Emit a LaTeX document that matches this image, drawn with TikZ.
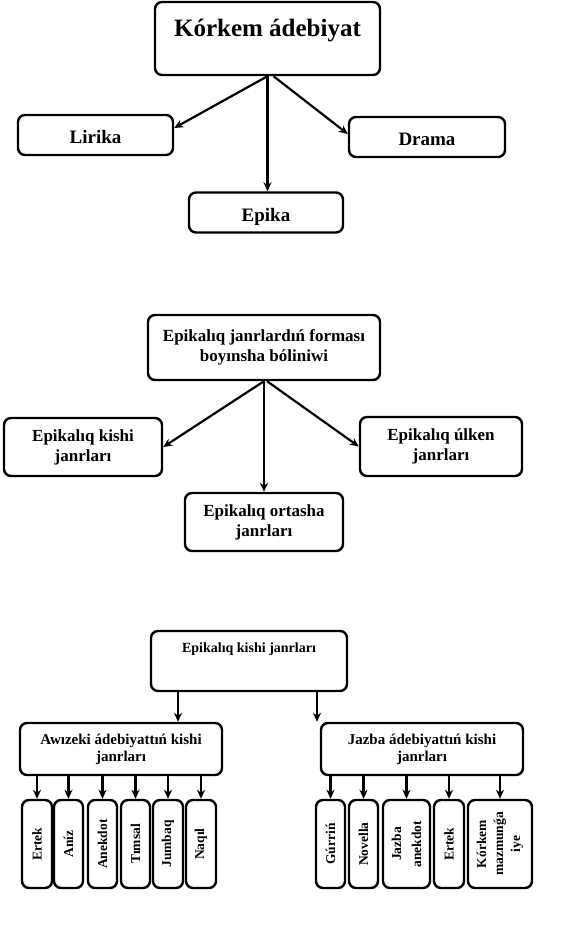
\documentclass[tikz,border=0pt]{standalone}
\usepackage{fontspec}
\setmainfont{Liberation Serif}
\usetikzlibrary{arrows.meta,positioning}
\tikzset{
    >={Stealth[length=9pt,width=8pt]},
    box/.style={draw,rounded corners=7pt,line width=2.4pt,align=center,inner sep=0pt},
    arr/.style={->,line width=2.2pt},
    kind/.style={box,minimum height=40pt,text height=17pt,text depth=0pt,font=\bfseries\fontsize{19}{23}\selectfont},
    form/.style={box,font=\bfseries\fontsize{17}{20}\selectfont},
    genre/.style={box,minimum width=202pt,minimum height=52pt,font=\bfseries\fontsize{15}{17}\selectfont},
    leaf/.style={box,rotate=90,minimum width=88pt,font=\bfseries\fontsize{13.5}{17}\selectfont}
}

\begin{document}
\begin{tikzpicture}[x=1pt,y=1pt]
        \useasboundingbox (0,0) rectangle (581,-934);
        % Literature and its kinds
        \node[box,minimum width=225pt,text height=35pt,text depth=38pt,
              font=\bfseries\fontsize{25}{30}\selectfont] (art) at (267.5,-38.5) {Kórkem ádebiyat};
        \node[kind,minimum width=155pt] (lir) at (95.5,-135) {Lirika};
        \node[kind,minimum width=156pt] (dra) at (427,-137) {Drama};
        \node[kind,minimum width=154pt] (epi) at (266,-212.5) {Epika};
        \draw[arr] (art.south) -- ([yshift=7pt]lir.east);
        \draw[arr] ([xshift=6pt]art.south) -- ([yshift=3pt]dra.west);
        \draw[arr] (art.south) -- (art.south |- epi.north);

        % Division by form
        \node[form,minimum width=232pt,minimum height=65pt] (frm) at (264,-347.5) {Epikalıq janrlardıń forması\\boyınsha bóliniwi};
        \node[form,minimum width=158pt,minimum height=58pt] (kis) at (83,-447) {Epikalıq kishi\\janrları};
        \node[form,minimum width=162pt,minimum height=59pt] (ulk) at (441,-446.5) {Epikalıq úlken\\janrları};
        \node[form,minimum width=158pt,minimum height=58pt] (ort) at (264,-522) {Epikalıq ortasha\\janrları};
        \draw[arr] (frm.south) -- (kis.east);
        \draw[arr] ([xshift=3pt]frm.south) -- (ulk.west);
        \draw[arr] (frm.south) -- (frm.south |- ort.north);

        % Small epic genres
        \node[box,minimum width=196pt,text height=21pt,text depth=39pt,
              font=\bfseries\fontsize{14}{17}\selectfont] (sma) at (249,-661) {Epikalıq kishi janrları};
        \node[genre] (awz) at (121,-749) {Awızeki ádebiyattıń kishi\\janrları};
        \node[genre] (jaz) at (422,-749) {Jazba ádebiyattıń kishi\\janrları};
        \draw[arr] ([xshift=-71pt]sma.south) -- ([xshift=-71pt]sma.south |- awz.north);
        \draw[arr] ([xshift=68pt]sma.south) -- ([xshift=68pt]sma.south |- jaz.north);

        % Oral genres
        \foreach \nm/\x/\w/\txt in {l1/37/30/Ertek, l2/68.5/29/Aníz, l3/102.5/29/Anekdot,
                l4/135.5/29/Tımsal, l5/168/30/Jumbaq, l6/201/30/Naqıl} {
            \node[leaf,minimum height=\w pt] (\nm) at (\x,-844) {\txt};
            \draw[arr] (awz.south -| \nm.east) -- (\nm.east);
        }
        % Written genres
        \foreach \nm/\x/\w/\txt in {r1/330.5/29/Gúrriń, r2/363.5/29/Novella, r3/406.5/47/{Jazba\\[3pt]anekdot},
                r4/449/30/Ertek, r5/500/64/{Kórkem\\mazmunǵa\\iye}} {
            \node[leaf,minimum height=\w pt] (\nm) at (\x,-844) {\txt};
            \draw[arr] (jaz.south -| \nm.east) -- (\nm.east);
        }
\end{tikzpicture}
\end{document}
